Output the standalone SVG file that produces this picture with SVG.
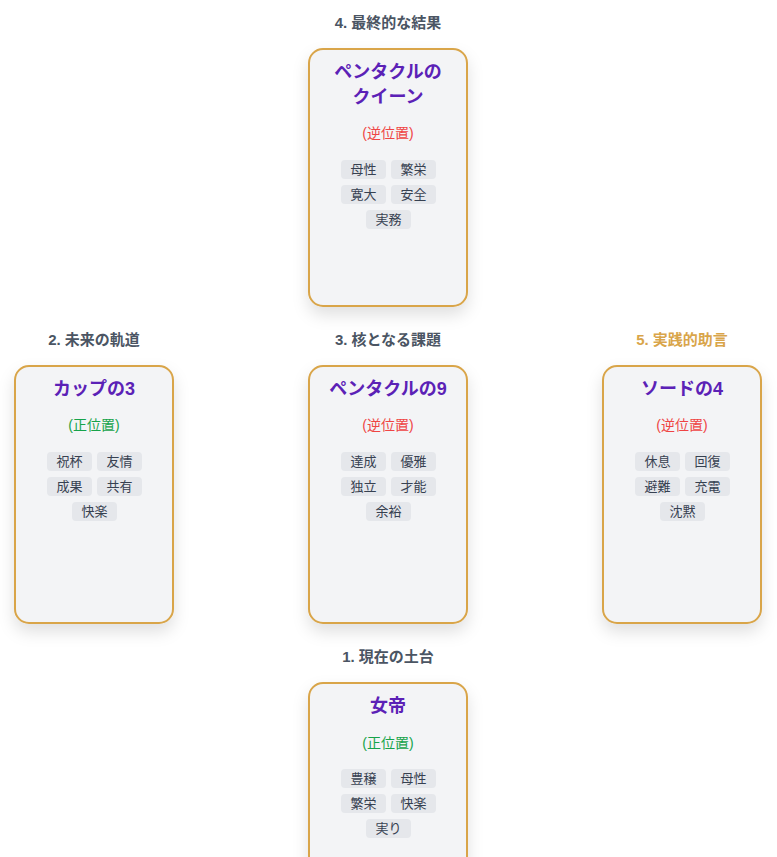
<svg xmlns="http://www.w3.org/2000/svg" width="777" height="857" viewBox="0 0 777 857">
<defs>
<filter id="sh" x="-30%" y="-20%" width="160%" height="150%"><feDropShadow dx="0" dy="8" stdDeviation="8" flood-color="#000" flood-opacity="0.12"/></filter>
<style>
.card{fill:#f3f4f6;stroke:#d9a54a;stroke-width:2;filter:url(#sh)}
.lbl{font:bold 15px "Liberation Sans","Noto Sans CJK JP",sans-serif;fill:#4b5563;text-anchor:middle}
.t{font:bold 18px "Liberation Sans","Noto Sans CJK JP",sans-serif;fill:#5b21b6;text-anchor:middle}
.rev{font:14px "Liberation Sans","Noto Sans CJK JP",sans-serif;fill:#ef4444;text-anchor:middle}
.up{font:14px "Liberation Sans","Noto Sans CJK JP",sans-serif;fill:#16a34a;text-anchor:middle}
.tag{fill:#e5e7eb}
.tt{font:13px "Liberation Sans","Noto Sans CJK JP",sans-serif;fill:#374151;text-anchor:middle}
</style>
</defs>
<g id="card4">
<text class="lbl" x="388" y="28">4. 最終的な結果</text>
<rect class="card" x="309" y="49" width="158" height="257" rx="14"/>
<text class="t" x="388" y="78">ペンタクルの</text>
<text class="t" x="388" y="103">クイーン</text>
<text class="rev" x="388" y="138">(逆位置)</text>
<g transform="translate(0,160)">
<rect class="tag" x="341" y="0" width="45" height="19" rx="4"/><text class="tt" x="363.5" y="14">母性</text>
<rect class="tag" x="391" y="0" width="45" height="19" rx="4"/><text class="tt" x="413.5" y="14">繁栄</text>
<rect class="tag" x="341" y="25" width="45" height="19" rx="4"/><text class="tt" x="363.5" y="39">寛大</text>
<rect class="tag" x="391" y="25" width="45" height="19" rx="4"/><text class="tt" x="413.5" y="39">安全</text>
<rect class="tag" x="366" y="50" width="45" height="19" rx="4"/><text class="tt" x="388.5" y="64">実務</text>
</g>
</g>
<g id="card2">
<text class="lbl" x="94" y="345">2. 未来の軌道</text>
<rect class="card" x="15" y="366" width="158" height="257" rx="14"/>
<text class="t" x="94" y="395">カップの3</text>
<text class="up" x="94" y="430">(正位置)</text>
<g transform="translate(-294,452)">
<rect class="tag" x="341" y="0" width="45" height="19" rx="4"/><text class="tt" x="363.5" y="14">祝杯</text>
<rect class="tag" x="391" y="0" width="45" height="19" rx="4"/><text class="tt" x="413.5" y="14">友情</text>
<rect class="tag" x="341" y="25" width="45" height="19" rx="4"/><text class="tt" x="363.5" y="39">成果</text>
<rect class="tag" x="391" y="25" width="45" height="19" rx="4"/><text class="tt" x="413.5" y="39">共有</text>
<rect class="tag" x="366" y="50" width="45" height="19" rx="4"/><text class="tt" x="388.5" y="64">快楽</text>
</g>
</g>
<g id="card3">
<text class="lbl" x="388" y="345">3. 核となる課題</text>
<rect class="card" x="309" y="366" width="158" height="257" rx="14"/>
<text class="t" x="388" y="395">ペンタクルの9</text>
<text class="rev" x="388" y="430">(逆位置)</text>
<g transform="translate(0,452)">
<rect class="tag" x="341" y="0" width="45" height="19" rx="4"/><text class="tt" x="363.5" y="14">達成</text>
<rect class="tag" x="391" y="0" width="45" height="19" rx="4"/><text class="tt" x="413.5" y="14">優雅</text>
<rect class="tag" x="341" y="25" width="45" height="19" rx="4"/><text class="tt" x="363.5" y="39">独立</text>
<rect class="tag" x="391" y="25" width="45" height="19" rx="4"/><text class="tt" x="413.5" y="39">才能</text>
<rect class="tag" x="366" y="50" width="45" height="19" rx="4"/><text class="tt" x="388.5" y="64">余裕</text>
</g>
</g>
<g id="card5">
<text class="lbl" x="682" y="345" style="fill:#d9a54a">5. 実践的助言</text>
<rect class="card" x="603" y="366" width="158" height="257" rx="14"/>
<text class="t" x="682" y="395">ソードの4</text>
<text class="rev" x="682" y="430">(逆位置)</text>
<g transform="translate(294,452)">
<rect class="tag" x="341" y="0" width="45" height="19" rx="4"/><text class="tt" x="363.5" y="14">休息</text>
<rect class="tag" x="391" y="0" width="45" height="19" rx="4"/><text class="tt" x="413.5" y="14">回復</text>
<rect class="tag" x="341" y="25" width="45" height="19" rx="4"/><text class="tt" x="363.5" y="39">避難</text>
<rect class="tag" x="391" y="25" width="45" height="19" rx="4"/><text class="tt" x="413.5" y="39">充電</text>
<rect class="tag" x="366" y="50" width="45" height="19" rx="4"/><text class="tt" x="388.5" y="64">沈黙</text>
</g>
</g>
<g id="card1">
<text class="lbl" x="388" y="662">1. 現在の土台</text>
<rect class="card" x="309" y="683" width="158" height="257" rx="14"/>
<text class="t" x="388" y="712">女帝</text>
<text class="up" x="388" y="748">(正位置)</text>
<g transform="translate(0,769)">
<rect class="tag" x="341" y="0" width="45" height="19" rx="4"/><text class="tt" x="363.5" y="14">豊穣</text>
<rect class="tag" x="391" y="0" width="45" height="19" rx="4"/><text class="tt" x="413.5" y="14">母性</text>
<rect class="tag" x="341" y="25" width="45" height="19" rx="4"/><text class="tt" x="363.5" y="39">繁栄</text>
<rect class="tag" x="391" y="25" width="45" height="19" rx="4"/><text class="tt" x="413.5" y="39">快楽</text>
<rect class="tag" x="366" y="50" width="45" height="19" rx="4"/><text class="tt" x="388.5" y="64">実り</text>
</g>
</g>
<g id="connectors"/>
</svg>
